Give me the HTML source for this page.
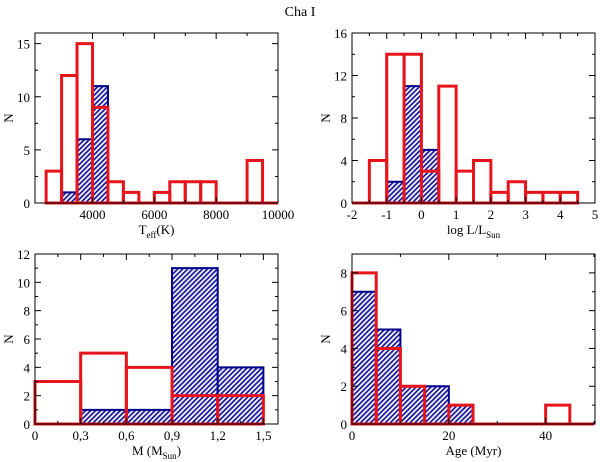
<!DOCTYPE html>
<html><head><meta charset="utf-8"><style>
html,body{margin:0;padding:0;background:#fff;}
svg{display:block;font-family:"Liberation Serif",serif;}
</style></head><body>
<svg id="fig" width="600" height="462" viewBox="0 0 600 462" xmlns="http://www.w3.org/2000/svg">
<defs>
<pattern id="hatch" patternUnits="userSpaceOnUse" width="3.5" height="3.5" patternTransform="rotate(45)">
<rect width="3.5" height="3.5" fill="#fff"/>
<rect x="0" y="0" width="1.8" height="3.5" fill="#1a1aa0"/>
</pattern>
</defs>
<text x="300" y="16" font-size="14" text-anchor="middle">Cha I</text>
</svg>
<script>
// Panel 1: Teff
const teffBins = [2500,3000,3500,4000,4500,5000,5500,6000,6500,7000,7500,8000,8500,9000,9500];
const teffRed = [3,12,15,9,2,1,0,1,2,2,2,0,0,4,0];
const teffBlue = [0,1,6,11,0,0,0,0,0,0,0,0,0,0,0];
const teffTicks = ["4000","6000","8000","10000"];
// Panel 2: log L
const lumBins = [-2,-1.5,-1,-0.5,0,0.5,1,1.5,2,2.5,3,3.5,4];
const lumRed = [0,4,14,14,3,11,3,4,1,2,1,1,1];
const lumBlue = [0,0,2,11,5,0,0,0,0,0,0,0,0];
const lumTicks = ["-2","-1","0","1","2","3","4","5"];
// Panel 3: Mass
const massBins = [0,0.3,0.6,0.9,1.2];
const massRed = [3,5,4,2,2];
const massBlue = [0,1,1,11,4];
const massTicks = ["0","0,3","0,6","0,9","1,2","1,5"];
// Panel 4: Age
const ageBins = [0,5,10,15,20,25,30,35,40,45];
const ageRed = [8,4,2,0,1,0,0,0,1,0];
const ageBlue = [7,5,2,2,1,0,0,0,0,0];
const ageTicks = ["0","20","40"];

const NS="http://www.w3.org/2000/svg";
const svg=document.getElementById('fig');
function mk(tag,attrs,parent){const e=document.createElementNS(NS,tag);for(const k in attrs)e.setAttribute(k,attrs[k]);(parent||svg).appendChild(e);return e;}

function panel(o){
  const g=mk('g',{});
  
  
  const sx=v=>o.L+(v-o.xmin)/(o.xmax-o.xmin)*(o.R-o.L);
  const sy=v=>o.B-(v-o.ymin)/(o.ymax-o.ymin)*(o.B-o.T);
  const bar=(b,val,fill,stroke,sw,nm)=>{
    const x0=sx(b),x1=sx(b+o.w),y=sy(val),y0=sy(0);
    const p=mk('path',{d:`M${x0},${y0}V${y}H${x1}V${y0}Z`,fill:fill,stroke:stroke,'stroke-width':sw},g);
    
    
  };
  o.bins.forEach((b,i)=>bar(b,o.blue[i],'url(#hatch)','#00008b',2,'blue-bar'));
  o.bins.forEach((b,i)=>bar(b,o.red[i],'none','#e8141c',3,'red-bar'));
  const f=mk('rect',{x:o.L,y:o.T,width:o.R-o.L,height:o.B-o.T,fill:'none',stroke:'#000','stroke-width':1},g);
  
  
  o.xt.forEach((lab,i)=>{
    const v=o.xt0+i*o.xstep, x=sx(v);
    mk('line',{x1:x,y1:o.B,x2:x,y2:o.B-6,stroke:'#000'},g);
    mk('line',{x1:x,y1:o.T,x2:x,y2:o.T+6,stroke:'#000'},g);
    const xm=sx(v+o.xstep/2);
    if(xm<o.R){mk('line',{x1:xm,y1:o.B,x2:xm,y2:o.B-3,stroke:'#000'},g);mk('line',{x1:xm,y1:o.T,x2:xm,y2:o.T+3,stroke:'#000'},g);}
    const t=mk('text',{x:x,y:o.B+16,'font-size':13,'text-anchor':'middle'},g);
    t.textContent=lab;
    
    
  });
  for(let v=0;v<=o.ymax+1e-9;v+=o.ystep){
    const y=sy(v);
    mk('line',{x1:o.L,y1:y,x2:o.L+6,y2:y,stroke:'#000'},g);
    mk('line',{x1:o.R,y1:y,x2:o.R-6,y2:y,stroke:'#000'},g);
    const ym=sy(v+o.ystep/2);
    if(ym>o.T){mk('line',{x1:o.L,y1:ym,x2:o.L+3,y2:ym,stroke:'#000'},g);mk('line',{x1:o.R,y1:ym,x2:o.R-3,y2:ym,stroke:'#000'},g);}
    const t=mk('text',{x:o.L-5,y:y+5,'font-size':13,'text-anchor':'end'},g);
    t.textContent=String(v);
    
    
  }
  const yl=mk('text',{x:0,y:0,'font-size':13,'text-anchor':'middle',transform:`translate(${o.L-22},${(o.T+o.B)/2}) rotate(-90)`},g);
  yl.textContent='N';
  
  
  const xl=mk('text',{x:(o.L+o.R)/2,y:o.B+31,'font-size':13,'text-anchor':'middle'},g);
  xl.innerHTML=o.xlabel;
  
  
}
panel({name:'teff-panel',L:35,R:278,T:33,B:203,xmin:2140,xmax:10000,ymin:0,ymax:16,bins:teffBins,w:500,red:teffRed,blue:teffBlue,xt:teffTicks,xt0:4000,xstep:2000,ystep:5,
 xlabel:'T<tspan font-size="9" dy="4">eff</tspan><tspan dy="-4">(K)</tspan>'});
panel({name:'luminosity-panel',L:352,R:595,T:33,B:203,xmin:-2,xmax:5,ymin:0,ymax:16,bins:lumBins,w:0.5,red:lumRed,blue:lumBlue,xt:lumTicks,xt0:-2,xstep:1,ystep:4,
 xlabel:'log L/L<tspan font-size="9" dy="4">Sun</tspan>'});
panel({name:'mass-panel',L:35,R:278,T:254,B:424,xmin:0,xmax:1.596,ymin:0,ymax:12,bins:massBins,w:0.3,red:massRed,blue:massBlue,xt:massTicks,xt0:0,xstep:0.3,ystep:2,
 xlabel:'M (M<tspan font-size="9" dy="4">Sun</tspan><tspan dy="-4">)</tspan>'});
panel({name:'age-panel',L:352,R:595,T:254,B:424,xmin:0,xmax:50.2,ymin:0,ymax:9,bins:ageBins,w:5,red:ageRed,blue:ageBlue,xt:ageTicks,xt0:0,xstep:20,ystep:2,
 xlabel:'Age (Myr)'});
</script>
</body></html>
